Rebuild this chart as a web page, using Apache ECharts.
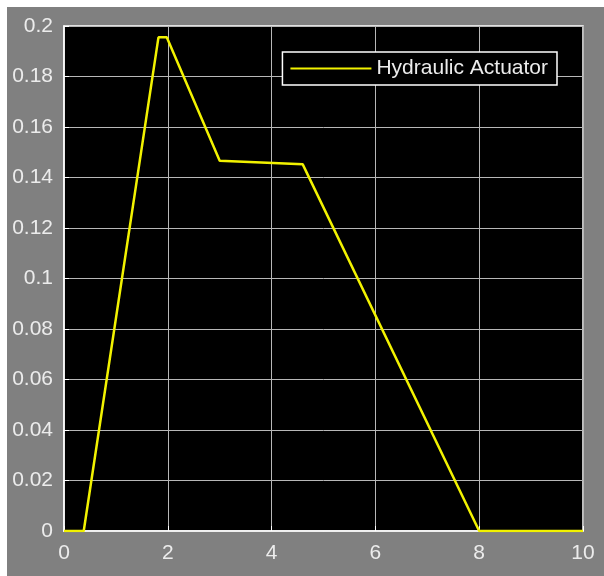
<!DOCTYPE html>
<html>
<head>
<meta charset="utf-8">
<script src="https://cdn.jsdelivr.net/npm/echarts@6/dist/echarts.min.js"></script>
<style>
html,body{margin:0;padding:0;background:#ffffff;width:604px;height:576px;overflow:hidden;}
#chart{position:absolute;left:7px;top:7px;width:597px;height:569px;background:#808080;}
</style>
</head>
<body>
<div id="chart"></div>
<script>
const seriesName = 'Hydraulic Actuator';
const timeValues = [0, 0.38, 1.82, 1.98, 3.0, 4.6, 8.0, 10];
const actuatorValues = [0, 0, 0.1955, 0.1955, 0.1466, 0.1452, 0, 0];
const xTicks = {min: 0, max: 10, interval: 2};
const yTicks = {min: 0, max: 0.2, interval: 0.02};

const chart = echarts.init(document.getElementById('chart'), null, {renderer: 'canvas'});
const labelFont = {color: '#ececec', fontSize: 21, fontFamily: 'Liberation Sans, Arial, sans-serif'};
chart.setOption({
  animation: false,
  backgroundColor: '#808080',
  grid: {left: 57, right: 21, top: 19, bottom: 45, show: true, backgroundColor: '#000000', borderColor: '#ffffff', borderWidth: 1.5},
  legend: {
    show: true,
    right: 47, top: 45,
    backgroundColor: '#000000',
    borderColor: '#ffffff', borderWidth: 1.5,
    padding: [6, 9, 6, 8],
    icon: 'rect', itemWidth: 81, itemHeight: 2,
    textStyle: {color: '#ececec', fontSize: 21, fontFamily: 'Liberation Sans, Arial, sans-serif'},
    data: [seriesName]
  },
  xAxis: {
    type: 'value', min: xTicks.min, max: xTicks.max, interval: xTicks.interval,
    axisLine: {show: true, onZero: false, lineStyle: {color: '#ffffff', width: 1.5}},
    axisTick: {show: true, inside: true, length: 5, lineStyle: {color: '#ffffff'}},
    axisLabel: Object.assign({margin: 12}, labelFont),
    splitLine: {show: true, lineStyle: {color: '#b8b8b8', width: 1}}
  },
  yAxis: {
    type: 'value', min: yTicks.min, max: yTicks.max, interval: yTicks.interval,
    axisLine: {show: true, lineStyle: {color: '#ffffff', width: 1.5}},
    axisTick: {show: true, inside: true, length: 5, lineStyle: {color: '#ffffff'}},
    axisLabel: Object.assign({margin: 11}, labelFont),
    splitLine: {show: true, lineStyle: {color: '#b8b8b8', width: 1}}
  },
  series: [{
    name: seriesName,
    type: 'line',
    data: timeValues.map((t, i) => [t, actuatorValues[i]]),
    symbol: 'none',
    lineStyle: {color: '#f2f200', width: 2.5},
    itemStyle: {color: '#f2f200'},
    z: 5
  }]
});
</script>
</body>
</html>
